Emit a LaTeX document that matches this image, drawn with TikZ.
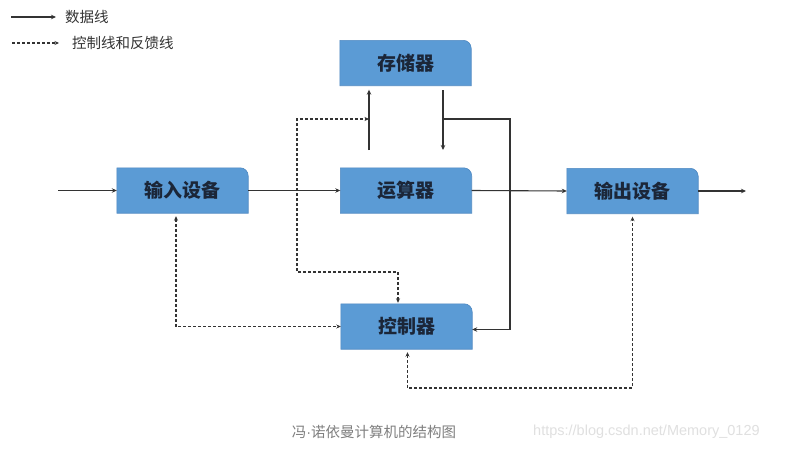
\documentclass[tikz,border=0pt]{standalone}
\usepackage{fontspec}
\newfontfamily\cjk{Noto Sans CJK SC}
\newfontfamily\urlfont{Liberation Sans}
\usetikzlibrary{arrows.meta,backgrounds}
\definecolor{boxfill}{HTML}{5B9BD5}
\definecolor{boxline}{HTML}{4F89C2}
\definecolor{boxtext}{HTML}{1B2638}
\definecolor{linec}{HTML}{333333}
\tikzset{
  box/.style={minimum width=131pt, minimum height=45pt, inner sep=0pt,
    font=\cjk\bfseries\fontsize{19}{19}\selectfont, text=boxtext},
  data/.style={draw=linec, line width=1.1pt, -{Stealth[length=5pt,width=4.5pt]}},
  ctrl/.style={draw=linec, line width=1.1pt, dash pattern=on 3pt off 2pt,
    {Stealth[length=4.5pt,width=4pt]}-{Stealth[length=4.5pt,width=4pt]}},
  legtext/.style={anchor=west, inner sep=0pt, font=\cjk\fontsize{14.5}{14.5}\selectfont, text=black!80},
}
\newcommand{\boxbg}[1]{%
  \fill[boxfill, draw=boxline, line width=0.6pt]
    (#1.south west) -- (#1.north west) -- ([xshift=-8pt]#1.north east)
    .. controls ([xshift=-3.6pt]#1.north east) and ([yshift=-3.6pt]#1.north east) ..
    ([yshift=-8pt]#1.north east) -- (#1.south east) -- cycle;}
\begin{document}
\begin{tikzpicture}[x=1pt,y=-1pt]
\useasboundingbox (0,0) rectangle (796,450);
% boxes
\node[box] (mem) at (405.5,63) {存储器};
\node[box] (alu) at (406,190.5) {运算器};
\node[box] (in)  at (182.5,190.5) {输入设备};
\node[box] (out) at (632.5,191) {输出设备};
\node[box] (ctl) at (406.5,326.5) {控制器};
\begin{scope}[on background layer]
\fill[white] (0,0) rectangle (796,450);
\boxbg{mem}\boxbg{alu}\boxbg{in}\boxbg{out}\boxbg{ctl}
\end{scope}
% legend
\coordinate (l1a) at (11,17); \coordinate (l1b) at (56,17);
\coordinate (l2a) at (12,43); \coordinate (l2b) at (59,43);
\draw[data] (l1a) -- (l1b);
\draw[draw=linec, line width=1.1pt, dash pattern=on 3pt off 2pt, -{Stealth[length=4.5pt,width=4pt]}] (l2a) -- (l2b);
\node[legtext] (lt1) at (65,17) {数据线};
\node[legtext] (lt2) at (72,43) {控制线和反馈线};
% data lines
\coordinate (inL) at (58,190.5);
\coordinate (outR) at (746,191);
\draw[data] (inL) -- (in.west);
\draw[data] (in.east) -- (alu.west);
\draw[data] (alu.east) -- (out.west);
\draw[data] (out.east) -- (outR);
\coordinate (c1) at (369,150);
\coordinate (c2) at (443,90);
\coordinate (j1) at (443,119);
\coordinate (j2) at (369,119);
\coordinate (r1) at (510,119);
\draw[data, shorten >=4pt] (c1) -- (c1 |- mem.south);
\draw[data] (c2) -- (c2 |- c1);
\draw[data] (j1) -- (r1) |- ([yshift=-3pt]ctl.east);
% control lines
\coordinate (d1) at (297,272);
\draw[ctrl, shorten <=1pt] ([xshift=-8.5pt]ctl.north) |- (d1) |- (j2);
\draw[ctrl, shorten <=3pt] ([xshift=-6.5pt]in.south) |- (ctl.west);
\coordinate (d2) at (520,388);
\draw[ctrl, shorten <=3pt, shorten >=3pt] ([xshift=1pt]ctl.south) |- (d2) -| (out.south);
% caption
\node[inner sep=0pt, font=\cjk\fontsize{14.5}{14.5}\selectfont, text=black!50] (cap) at (374,432) {冯{\urlfont ·}诺依曼计算机的结构图};
\node[inner sep=0pt, anchor=west, font=\urlfont\fontsize{14.5}{14.5}\selectfont, text=black!12] (url) at (533,432) {https://blog.csdn.net/Memory\_0129};
\end{tikzpicture}
\end{document}
